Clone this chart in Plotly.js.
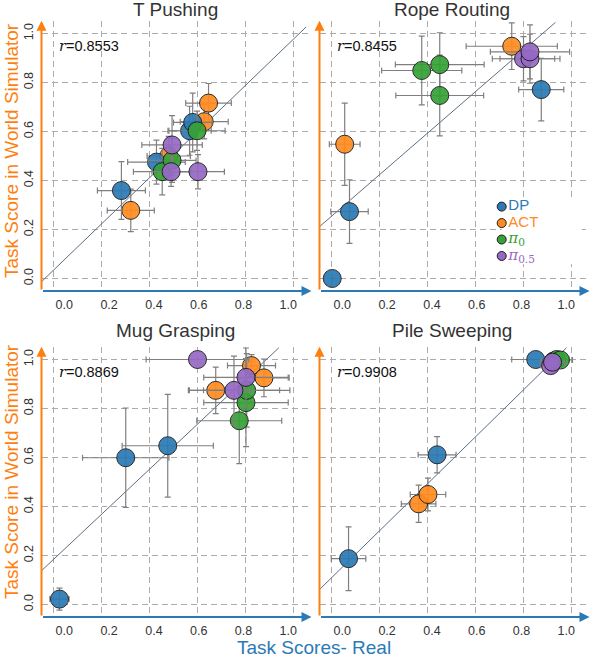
<!DOCTYPE html>
<html>
<head>
<meta charset="utf-8">
<script src="https://cdn.plot.ly/plotly-3.0.1.min.js"></script>
<style>
  html, body { margin: 0; padding: 0; background: #fff; }
  #chart { width: 592px; height: 658px; }
</style>
</head>
<body>
<div id="chart"></div>
<script>
// ---- data -------------------------------------------------------------
const taskNames = ['T Pushing', 'Rope Routing', 'Mug Grasping', 'Pile Sweeping'];
const corrValues = ['0.8553', '0.8455', '0.8869', '0.9908'];
const methodNames = ['DP', 'ACT', 'π0', 'π0.5'];
const methodColors = ['#2b7ab5', '#ff8b1f', '#35a136', '#9569c4'];
const axisTicks = [0, 0.2, 0.4, 0.6, 0.8, 1.0];
const axisTickText = ['0.0', '0.2', '0.4', '0.6', '0.8', '1.0'];

// T Pushing
const tPushMethod  = ['DP', 'DP', 'DP', 'DP', 'ACT', 'ACT', 'ACT', 'ACT', 'π0', 'π0', 'π0', 'π0.5', 'π0.5', 'π0.5'];
const tPushReal    = [0.283, 0.429, 0.567, 0.580, 0.322, 0.480, 0.628, 0.646, 0.453, 0.494, 0.598, 0.490, 0.494, 0.602];
const tPushSim     = [0.359, 0.475, 0.603, 0.637, 0.278, 0.500, 0.640, 0.716, 0.436, 0.482, 0.603, 0.436, 0.545, 0.436];
const tPushRealErr = [0.100, 0.120, 0.090, 0.080, 0.098, 0.090, 0.100, 0.095, 0.120, 0.100, 0.117, 0.080, 0.126, 0.110];
const tPushSimErr  = [0.118, 0.090, 0.100, 0.120, 0.087, 0.080, 0.070, 0.080, 0.095, 0.090, 0.080, 0.060, 0.120, 0.070];

// Rope Routing
const ropeMethod  = ['DP', 'DP', 'DP', 'ACT', 'ACT', 'π0', 'π0', 'π0', 'π0.5', 'π0.5', 'π0.5'];
const ropeReal    = [0.003, 0.075, 0.874, 0.055, 0.751, 0.376, 0.451, 0.451, 0.800, 0.827, 0.827];
const ropeSim     = [0.000, 0.273, 0.771, 0.548, 0.948, 0.849, 0.873, 0.747, 0.897, 0.897, 0.925];
const ropeRealErr = [0.000, 0.078, 0.094, 0.064, 0.190, 0.167, 0.185, 0.183, 0.130, 0.125, 0.165];
const ropeSimErr  = [0.000, 0.130, 0.128, 0.168, 0.095, 0.140, 0.130, 0.165, 0.090, 0.100, 0.110];

// Mug Grasping
const mugMethod  = ['DP', 'DP', 'DP', 'ACT', 'ACT', 'ACT', 'π0', 'π0', 'π0', 'π0.5', 'π0.5', 'π0.5'];
const mugReal    = [0.025, 0.301, 0.476, 0.676, 0.825, 0.877, 0.774, 0.802, 0.805, 0.600, 0.752, 0.802];
const mugSim     = [0.022, 0.599, 0.648, 0.874, 0.975, 0.925, 0.750, 0.824, 0.874, 1.000, 0.874, 0.927];
const mugRealErr = [0.040, 0.180, 0.190, 0.110, 0.100, 0.105, 0.177, 0.176, 0.180, 0.214, 0.190, 0.176];
const mugSimErr  = [0.045, 0.203, 0.210, 0.095, 0.045, 0.077, 0.175, 0.180, 0.150, 0.000, 0.140, 0.120];

// Pile Sweeping
const pileMethod  = ['DP', 'DP', 'DP', 'ACT', 'ACT', 'π0', 'π0', 'π0', 'π0.5', 'π0.5'];
const pileReal    = [0.071, 0.440, 0.851, 0.363, 0.402, 0.924, 0.938, 0.954, 0.913, 0.921];
const pileSim     = [0.187, 0.611, 1.000, 0.411, 0.449, 0.993, 1.000, 0.998, 0.975, 0.989];
const pileRealErr = [0.072, 0.079, 0.100, 0.072, 0.074, 0.050, 0.050, 0.050, 0.040, 0.050];
const pileSimErr  = [0.130, 0.074, 0.000, 0.076, 0.067, 0.010, 0.010, 0.010, 0.020, 0.015];

// least-squares fit line per task
const fitSlope     = [0.943, 0.848, 0.920, 0.959];
const fitIntercept = [0.034, 0.254, 0.184, 0.109];
const fitXStart    = [-0.05, -0.05, -0.05, -0.05];
const fitXEnd      = [1.053, 0.933, 0.939, 0.979];

// ---- figure -----------------------------------------------------------
const panels = [
  { method: tPushMethod, real: tPushReal, sim: tPushSim, realErr: tPushRealErr, simErr: tPushSimErr },
  { method: ropeMethod,  real: ropeReal,  sim: ropeSim,  realErr: ropeRealErr,  simErr: ropeSimErr },
  { method: mugMethod,   real: mugReal,   sim: mugSim,   realErr: mugRealErr,   simErr: mugSimErr },
  { method: pileMethod,  real: pileReal,  sim: pileSim,  realErr: pileRealErr,  simErr: pileSimErr }
];

const drawOrder = ['ACT', 'DP', 'π0', 'π0.5'];
const X_RANGE = [-0.05, 1.075];
const Y_RANGE = [-0.05102, 1.05224];
const LABEL_RANGE = [-0.1018, 1.1036];
const FONT = 'Liberation Sans, Arial, Helvetica, sans-serif';
const TEXT_GRAY = '#333333';
const ORANGE = '#ff7f0e';
const BLUE = '#2b7ab5';
const GRID = '#ababab';

const W = 592, H = 658;
const colDomains = [[41.5 / W, 311.5 / W], [319.5 / W, 589.5 / W]];
const rowDomains = [[1 - 291 / H, 1 - 20.7 / H], [1 - 617 / H, 1 - 346.7 / H]];

const traces = [];
const layout = {
  width: W, height: H,
  margin: { l: 0, r: 0, t: 0, b: 0 },
  paper_bgcolor: '#ffffff',
  plot_bgcolor: '#ffffff',
  showlegend: false,
  font: { family: FONT, color: TEXT_GRAY },
  annotations: []
};

function axId(i) { return i === 0 ? '' : String(i + 1); }

panels.forEach((p, i) => {
  const xs = 'x' + axId(i), ys = 'y' + axId(i);
  const col = i % 2, row = Math.floor(i / 2);

  // grid-bearing axes
  layout['xaxis' + axId(i)] = {
    domain: colDomains[col], anchor: ys, range: X_RANGE,
    tickvals: axisTicks, showticklabels: false, ticks: '',
    showgrid: true, gridcolor: GRID, gridwidth: 1.6, griddash: '6px,4px',
    zeroline: false, showline: false, fixedrange: true
  };
  layout['yaxis' + axId(i)] = {
    domain: rowDomains[row], anchor: xs, range: Y_RANGE,
    tickvals: axisTicks, ticktext: axisTickText,
    showticklabels: col === 0, tickangle: -90, ticks: '',
    ticklabelstandoff: 5,
    tickfont: { family: FONT, size: 12.5, color: TEXT_GRAY },
    showgrid: true, gridcolor: GRID, gridwidth: 1.6, griddash: '6px,4px',
    zeroline: false, showline: false, fixedrange: true
  };
  // tick-label axis overlaid on each panel's x axis
  const lxId = 'x' + (i + 5);
  layout['xaxis' + (i + 5)] = {
    overlaying: xs, anchor: ys, side: 'bottom', range: LABEL_RANGE,
    tickvals: axisTicks, ticktext: axisTickText, ticks: '',
    ticklabelstandoff: 4,
    tickfont: { family: FONT, size: 12.5, color: TEXT_GRAY },
    showgrid: false, zeroline: false, showline: false, fixedrange: true
  };
  traces.push({ type: 'scatter', mode: 'markers', xaxis: lxId, yaxis: ys, x: [], y: [], hoverinfo: 'skip' });

  // fit line
  traces.push({
    type: 'scatter', mode: 'lines', xaxis: xs, yaxis: ys,
    x: [fitXStart[i], fitXEnd[i]],
    y: [fitIntercept[i] + fitSlope[i] * fitXStart[i], fitIntercept[i] + fitSlope[i] * fitXEnd[i]],
    line: { color: '#5d6d83', width: 1 }, hoverinfo: 'skip', cliponaxis: false
  });

  // points with error bars, one trace per method
  drawOrder.forEach(m => {
    const idx = p.method.map((v, k) => v === m ? k : -1).filter(k => k >= 0);
    const color = methodColors[methodNames.indexOf(m)];
    traces.push({
      type: 'scatter', mode: 'markers', xaxis: xs, yaxis: ys, name: m,
      x: idx.map(k => p.real[k]), y: idx.map(k => p.sim[k]),
      error_x: { type: 'data', array: idx.map(k => p.realErr[k]), color: '#7f7f7f', thickness: 1.2, width: 3 },
      error_y: { type: 'data', array: idx.map(k => p.simErr[k]), color: '#7f7f7f', thickness: 1.2, width: 3 },
      marker: { size: 18, color: color, opacity: 0.92, line: { color: '#1c1c1c', width: 1 } },
      cliponaxis: false
    });
  });

  // axis arrows
  layout.annotations.push({
    xref: xs, yref: ys, axref: xs, ayref: ys,
    x: X_RANGE[1], y: Y_RANGE[0], ax: X_RANGE[0], ay: Y_RANGE[0],
    showarrow: true, arrowhead: 2, arrowsize: 1, arrowwidth: 2, arrowcolor: BLUE, text: ''
  });
  layout.annotations.push({
    xref: xs, yref: ys, axref: xs, ayref: ys,
    x: X_RANGE[0], y: Y_RANGE[1], ax: X_RANGE[0], ay: Y_RANGE[0],
    showarrow: true, arrowhead: 2, arrowsize: 1, arrowwidth: 2, arrowcolor: ORANGE, text: ''
  });

  // correlation coefficient
  layout.annotations.push({
    xref: xs, yref: ys, x: 0.015, y: 0.95, xanchor: 'left', yanchor: 'middle',
    showarrow: false,
    text: '<span style="font-family:DejaVu Serif;font-style:italic">r</span>=' + corrValues[i],
    font: { family: FONT, size: 14.5, color: '#111111' }
  });

  // panel title
  layout.annotations.push({
    xref: 'paper', yref: 'paper',
    x: col === 0 ? 175 / W : 452 / W, y: row === 0 ? 1 - 9 / H : 1 - 330 / H,
    xanchor: 'center', yanchor: 'middle', showarrow: false,
    text: taskNames[i], font: { family: FONT, size: 19, color: TEXT_GRAY }
  });
});

// shared axis titles
[1 - 151 / H, 1 - 472 / H].forEach(yy => {
  layout.annotations.push({
    xref: 'paper', yref: 'paper', x: 11 / W, y: yy, xanchor: 'center', yanchor: 'middle',
    textangle: -90, showarrow: false, text: 'Task Score in World Simulator',
    font: { family: FONT, size: 19, color: ORANGE }
  });
});
layout.annotations.push({
  xref: 'paper', yref: 'paper', x: 314 / W, y: 1 - 647 / H, xanchor: 'center', yanchor: 'middle',
  showarrow: false, text: 'Task Scores- Real', font: { family: FONT, size: 19, color: BLUE }
});

// method key inside the Rope Routing panel
function keyLabel(m) {
  if (m.startsWith('π')) {
    return '<span style="font-family:DejaVu Serif"><i>π</i><sub>' + m.slice(1) + '</sub></span>';
  }
  return m;
}
layout.xaxis9 = { domain: [501.7 / W, 581.7 / W], range: [0, 10], anchor: 'y9', visible: false, fixedrange: true };
layout.yaxis9 = { domain: [1 - 264.2 / H, 1 - 198.4 / H], range: [-0.5, 3.5], anchor: 'x9', visible: false, fixedrange: true };
traces.push({
  type: 'scatter', mode: 'markers+text', xaxis: 'x9', yaxis: 'y9',
  x: methodNames.map(() => 0), y: methodNames.map((_, k) => methodNames.length - 1 - k),
  text: methodNames.map(keyLabel), textposition: 'middle right',
  textfont: { family: FONT, size: 15, color: methodColors },
  marker: { size: 9, color: methodColors, line: { color: '#1c1c1c', width: 1 } },
  cliponaxis: false, hoverinfo: 'skip'
});

Plotly.newPlot('chart', traces, layout, { staticPlot: true, displayModeBar: false });
</script>
</body>
</html>
